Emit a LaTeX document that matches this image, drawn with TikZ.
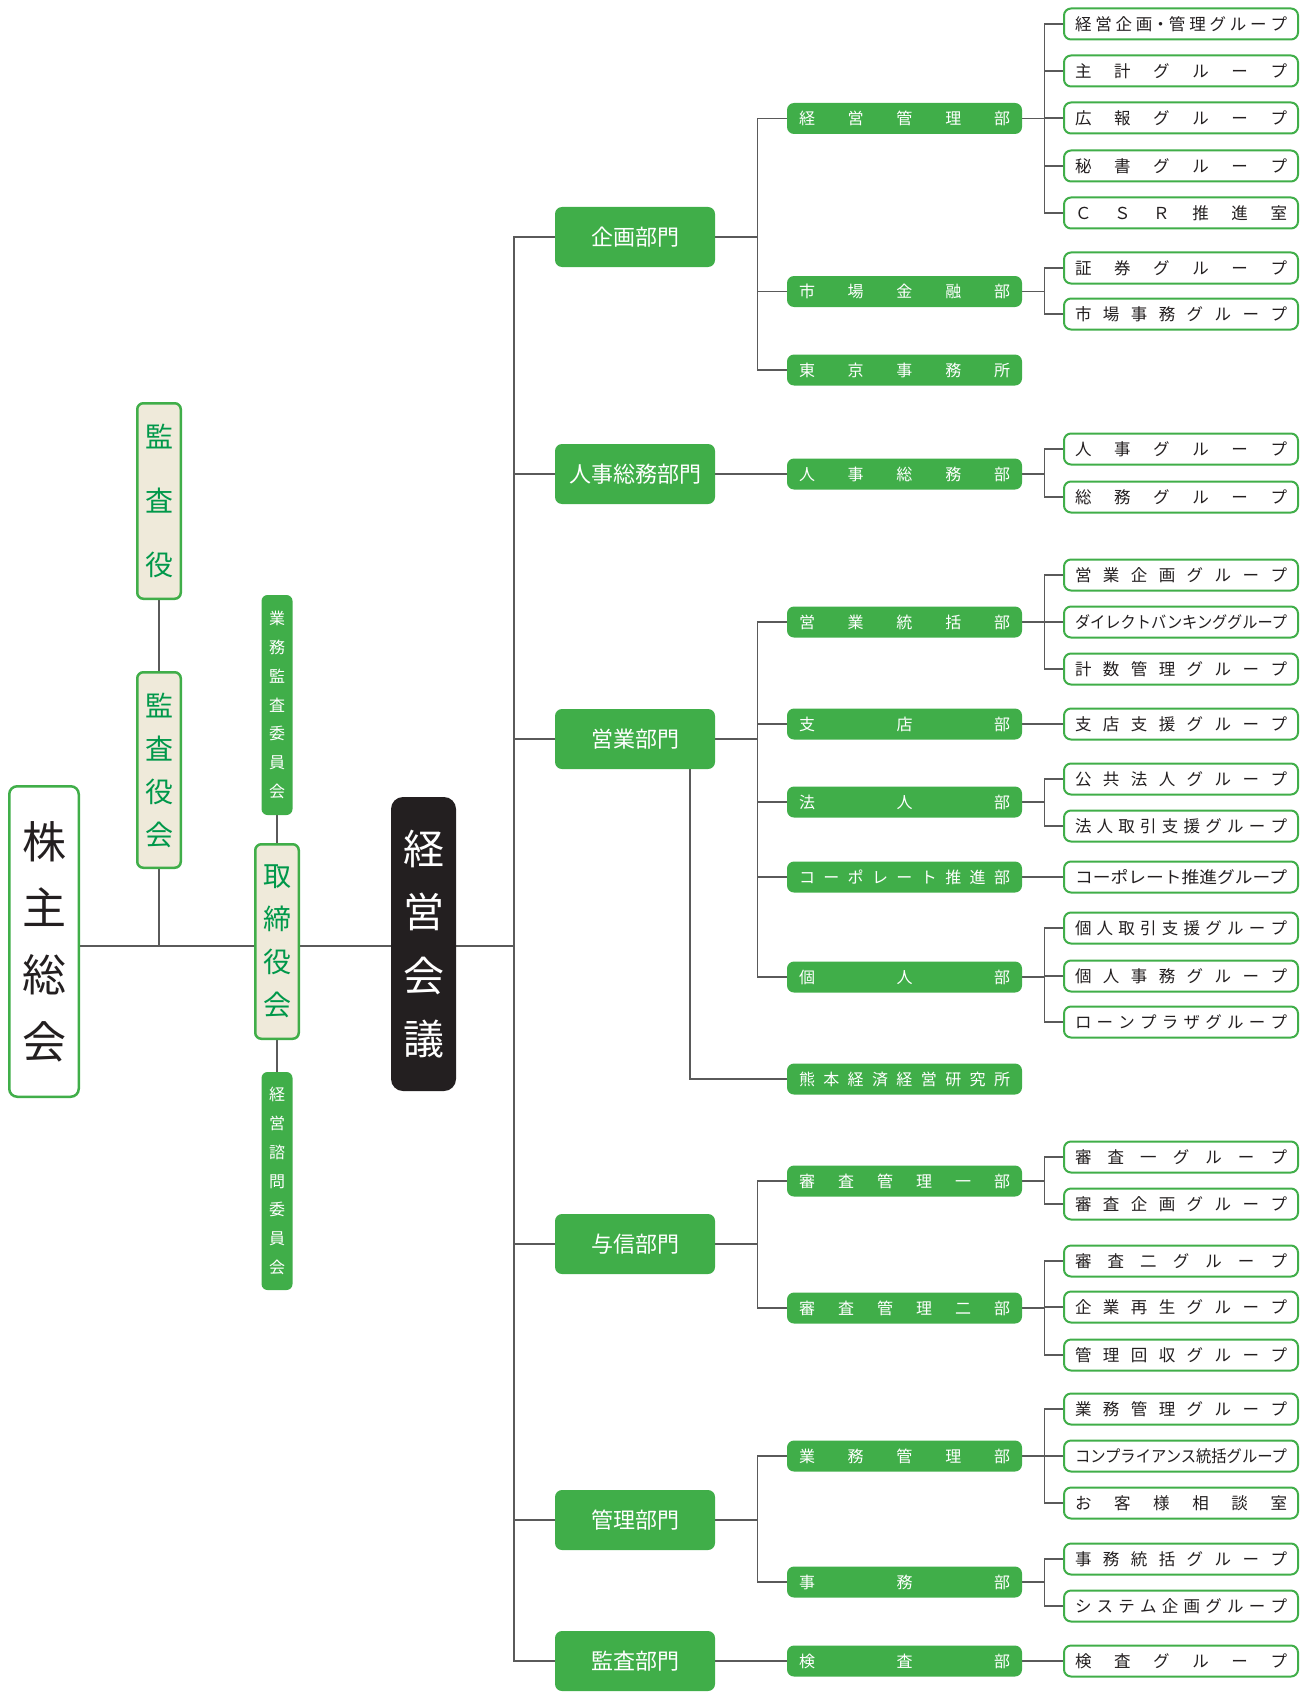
\documentclass[tikz,border=0pt]{standalone}
\usepackage{fontspec}
\usepackage{graphicx}
\setmainfont{Noto Sans CJK JP}
\usetikzlibrary{backgrounds}
\definecolor{orggreen}{HTML}{40AE49}
\definecolor{orgbeige}{HTML}{EFEADA}
\definecolor{orgtext}{HTML}{00984A}
\definecolor{orgblack}{HTML}{231F20}
\definecolor{orgline}{HTML}{5A5A5A}
\newcommand\fsz[2]{\fontsize{#1}{#2}\selectfont}
\newcommand\spr[2][211pt]{\makebox[#1][s]{#2}}
\newcommand\sqz[1]{\resizebox{212pt}{\height}{#1}}

\begin{document}
\begin{tikzpicture}[x=1pt,y=-1pt,
    link/.style={draw=orgline,line width=1.4pt},
    bumon/.style={fill=orggreen,rounded corners=7pt,minimum width=160pt,minimum height=60pt,inner sep=0pt,text=white,font=\fsz{22}{26}},
    bu/.style={fill=orggreen,rounded corners=7pt,minimum width=235pt,minimum height=31pt,inner sep=0pt,text=white,font=\fsz{16}{18}},
    grp/.style={draw=orggreen,line width=2pt,fill=white,rounded corners=7pt,minimum width=234pt,minimum height=31pt,inner sep=0pt,text=orgblack,font=\fsz{16.5}{18}},
    kansa/.style={draw=orggreen,line width=2.5pt,fill=orgbeige,rounded corners=6pt,minimum width=43.5pt,inner sep=0pt,align=center,text=orgtext},
    iinkai/.style={fill=orggreen,rounded corners=6pt,minimum width=31pt,inner sep=0pt,align=center,text=white,font=\fsz{16}{28.8}}]
\useasboundingbox (0,0) rectangle (1302,1696);

\node[draw=orggreen,line width=2.5pt,fill=white,rounded corners=8pt,minimum width=69.5pt,minimum height=310.5pt,inner sep=0pt,align=center,text=orgblack,font=\fsz{44}{66.7}] (sokai) at (44,941.5) {株\\主\\総\\会};
\node[kansa,minimum height=195.5pt,font=\fsz{28}{64}] (kansayaku) at (159,501) {監\\査\\役};
\node[kansa,minimum height=195.5pt,font=\fsz{28}{43}] (kansayakukai) at (159,770) {監\\査\\役\\会};
\node[iinkai,minimum height=220pt] (gyomu) at (277,705) {業\\務\\監\\査\\委\\員\\会};
\node[kansa,minimum height=194.5pt,font=\fsz{28}{43}] (tori) at (277,941.5) {取\\締\\役\\会};
\node[iinkai,minimum height=218pt] (shimon) at (277,1181) {経\\営\\諮\\問\\委\\員\\会};
\node[fill=orgblack,rounded corners=12pt,minimum width=65pt,minimum height=294pt,inner sep=0pt,align=center,text=white,font=\fsz{41}{63.5}] (kaigi) at (423.5,944) {経\\営\\会\\議};
\coordinate (trunk) at (514,946);

\node[bumon] (kikaku) at (635,237) {企画部門};
\node[bumon] (jinji) at (635,474) {人事総務部門};
\node[bumon] (eigyo) at (635,739) {営業部門};
\node[bumon] (yoshin) at (635,1244) {与信部門};
\node[bumon] (kanri) at (635,1520) {管理部門};
\node[bumon] (kansabu) at (635,1661) {監査部門};

\node[bu] (keikan) at (904.5,118.5) {\spr{経 営 管 理 部}};
\node[bu] (shijo) at (904.5,291.5) {\spr{市 場 金 融 部}};
\node[bu] (tokyo) at (904.5,370) {\spr{東 京 事 務 所}};
\node[bu] (jinjibu) at (904.5,474) {\spr{人 事 総 務 部}};
\node[bu] (eitoku) at (904.5,622) {\spr{営 業 統 括 部}};
\node[bu] (shiten) at (904.5,724) {\spr{支 店 部}};
\node[bu] (hojin) at (904.5,802) {\spr{法 人 部}};
\node[bu] (corp) at (904.5,877) {\spr{コ ー ポ レ ー ト 推 進 部}};
\node[bu] (kojin) at (904.5,977) {\spr{個 人 部}};
\node[bu] (kumamoto) at (904.5,1079) {\spr{熊 本 経 済 経 営 研 究 所}};
\node[bu] (shinsa1) at (904.5,1181) {\spr{審 査 管 理 一 部}};
\node[bu] (shinsa2) at (904.5,1308) {\spr{審 査 管 理 二 部}};
\node[bu] (gyokan) at (904.5,1456) {\spr{業 務 管 理 部}};
\node[bu] (jimu) at (904.5,1582) {\spr{事 務 部}};
\node[bu] (kensa) at (904.5,1661) {\spr{検 査 部}};

\node[grp] (gKeiki) at (1181,24) {\spr[212pt]{経 営 企 画・管 理 グ ル ー プ}};
\node[grp] (gShukei) at (1181,71) {\spr[212pt]{主 計 グ ル ー プ}};
\node[grp] (gKoho) at (1181,118) {\spr[212pt]{広 報 グ ル ー プ}};
\node[grp] (gHisho) at (1181,166) {\spr[212pt]{秘 書 グ ル ー プ}};
\node[grp] (gCSR) at (1181,213) {\spr[212pt]{Ｃ Ｓ Ｒ 推 進 室}};
\node[grp] (gShoken) at (1181,268) {\spr[212pt]{証 券 グ ル ー プ}};
\node[grp] (gShijimu) at (1181,314) {\spr[212pt]{市 場 事 務 グ ル ー プ}};
\node[grp] (gJinji) at (1181,449) {\spr[212pt]{人 事 グ ル ー プ}};
\node[grp] (gSomu) at (1181,497) {\spr[212pt]{総 務 グ ル ー プ}};
\node[grp] (gEikaku) at (1181,575) {\spr[212pt]{営 業 企 画 グ ル ー プ}};
\node[grp] (gDirect) at (1181,622) {\sqz{ダイレクトバンキンググループ}};
\node[grp] (gKeisu) at (1181,669) {\spr[212pt]{計 数 管 理 グ ル ー プ}};
\node[grp] (gShien) at (1181,724) {\spr[212pt]{支 店 支 援 グ ル ー プ}};
\node[grp] (gKokyo) at (1181,779) {\spr[212pt]{公 共 法 人 グ ル ー プ}};
\node[grp] (gHotori) at (1181,826) {\spr[212pt]{法 人 取 引 支 援 グ ル ー プ}};
\node[grp] (gCorp) at (1181,877) {\sqz{コーポレート推進グループ}};
\node[grp] (gKotori) at (1181,928) {\spr[212pt]{個 人 取 引 支 援 グ ル ー プ}};
\node[grp] (gKojimu) at (1181,976) {\spr[212pt]{個 人 事 務 グ ル ー プ}};
\node[grp] (gLoan) at (1181,1022) {\spr[212pt]{ロ ー ン プ ラ ザ グ ル ー プ}};
\node[grp] (gShinsa1) at (1181,1157) {\spr[212pt]{審 査 一 グ ル ー プ}};
\node[grp] (gShinkaku) at (1181,1204) {\spr[212pt]{審 査 企 画 グ ル ー プ}};
\node[grp] (gShinsa2) at (1181,1261) {\spr[212pt]{審 査 二 グ ル ー プ}};
\node[grp] (gSaisei) at (1181,1307) {\spr[212pt]{企 業 再 生 グ ル ー プ}};
\node[grp] (gKaishu) at (1181,1355) {\spr[212pt]{管 理 回 収 グ ル ー プ}};
\node[grp] (gGyokan) at (1181,1409) {\spr[212pt]{業 務 管 理 グ ル ー プ}};
\node[grp] (gCompl) at (1181,1456) {\sqz{コンプライアンス統括グループ}};
\node[grp] (gOkyaku) at (1181,1503) {\spr[212pt]{お 客 様 相 談 室}};
\node[grp] (gJimutou) at (1181,1559) {\spr[212pt]{事 務 統 括 グ ル ー プ}};
\node[grp] (gSystem) at (1181,1606) {\spr[212pt]{シ ス テ ム 企 画 グ ル ー プ}};
\node[grp] (gKensa) at (1181,1661) {\spr[212pt]{検 査 グ ル ー プ}};

\begin{scope}[on background layer]
\draw[link] (kansayaku.south) -- (kansayakukai.north);
\draw[link] (kansayakukai.south) -- (kansayakukai.south |- trunk);
\draw[link] (gyomu.south) -- (tori.north);
\draw[link] (tori.south) -- (shimon.north);
\draw[link] (sokai.east |- trunk) -- (tori.west |- trunk);
\draw[link] (tori.east |- trunk) -- (kaigi.west |- trunk);
\draw[link] (kaigi.east |- trunk) -- (trunk);
\foreach \d in {kikaku,jinji,eigyo,yoshin,kanri,kansabu}
  \draw[link] (trunk) |- (\d.west);
\foreach \d/\b in {kikaku/keikan,kikaku/shijo,kikaku/tokyo,jinji/jinjibu,eigyo/eitoku,eigyo/shiten,eigyo/hojin,eigyo/corp,eigyo/kojin,yoshin/shinsa1,yoshin/shinsa2,kanri/gyokan,kanri/jimu,kansabu/kensa}
  \draw[link] (\d.east) -- ++(42,0) |- (\b.west);
\draw[link] ([xshift=55pt]eigyo.south) |- (kumamoto.west);
\foreach \b/\g in {keikan/gKeiki,keikan/gShukei,keikan/gKoho,keikan/gHisho,keikan/gCSR,shijo/gShoken,shijo/gShijimu,jinjibu/gJinji,jinjibu/gSomu,eitoku/gEikaku,eitoku/gDirect,eitoku/gKeisu,shiten/gShien,hojin/gKokyo,hojin/gHotori,corp/gCorp,kojin/gKotori,kojin/gKojimu,kojin/gLoan,shinsa1/gShinsa1,shinsa1/gShinkaku,shinsa2/gShinsa2,shinsa2/gSaisei,shinsa2/gKaishu,gyokan/gGyokan,gyokan/gCompl,gyokan/gOkyaku,jimu/gJimutou,jimu/gSystem,kensa/gKensa}
  \draw[link] (\b.east) -- ++(22,0) |- (\g.west);
\end{scope}
\end{tikzpicture}
\end{document}
